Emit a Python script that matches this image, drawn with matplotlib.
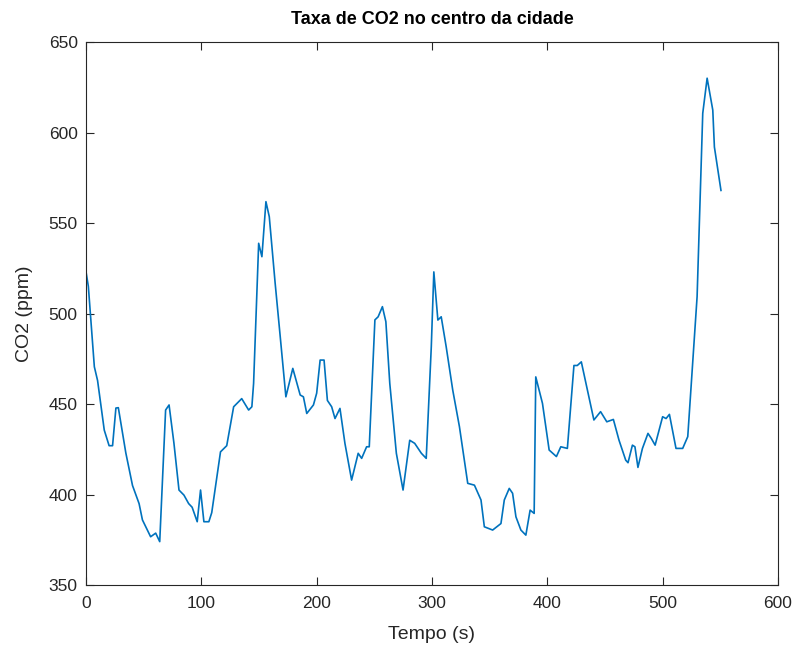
import matplotlib
matplotlib.use("Agg")
import matplotlib.pyplot as plt

# valores
tempo = [0, 2, 7.2, 10, 15.8, 20, 23, 25.9, 28, 34.5, 40.3, 46, 48.9, 56, 60.4, 63.9,
         69, 72, 76.2, 80.6, 84.9, 89, 92, 96.4, 99.3, 102.2, 106.5, 109, 116.6, 122,
         128, 135, 141, 143.8, 145.3, 149.7, 152.5, 156, 158.9, 164, 168.4, 173.3,
         179.3, 185.7, 188.5, 191.4, 197.2, 200, 203, 206.4, 209.3, 213, 215.9, 220.2,
         224.5, 230.3, 236, 239, 243.3, 245.6, 250.5, 253.3, 257, 260, 263.4, 269.1,
         274.9, 280.7, 285, 290.8, 295, 299.4, 301.6, 305.1, 308, 312.3, 318, 323.8,
         331, 336.8, 342.5, 345.4, 352.6, 359.8, 362.7, 367, 369.9, 372.8, 377.1,
         381.4, 385.1, 388.6, 390, 395.8, 401.6, 407.9, 411.7, 417.4, 423.1, 426,
         429.5, 440.4, 446.2, 451.6, 457.3, 462.2, 468, 470, 473.8, 476, 478.6,
         482.5, 487.3, 490.2, 493.5, 500, 503, 505.9, 511.6, 517.4, 521.8, 529.9,
         534.8, 538.6, 543.5, 544.9, 550.6]
co2 = [523, 515, 470.6, 463, 435.6, 427, 427, 447.8, 448, 423, 405, 395, 386, 376.7,
       378.7, 374, 446.7, 449.5, 428.5, 402.5, 399.7, 395, 393, 385, 402.5, 385, 385,
       390, 423.6, 427, 448.5, 453, 446.7, 448.5, 461.4, 538.8, 531.4, 561.8, 553.5,
       516.7, 487.2, 454, 469.7, 455, 454, 444.8, 449.5, 456, 474.3, 474.3, 452, 448.5,
       442, 447.6, 428.3, 408, 422.8, 420, 426.4, 426.4, 496.5, 498.2, 503.8, 495.5,
       461.4, 422.8, 402.5, 430, 428.3, 422.8, 420, 481.7, 523, 496.4, 498.2, 481.7,
       457.7, 437.5, 406.2, 405.2, 397, 382.2, 380.4, 384, 397, 403.4, 400.7, 387.7,
       380.4, 377.6, 391.4, 389.6, 465, 450.4, 424.6, 421, 426.4, 425.5, 471.3, 471.3,
       473.3, 441.2, 445.8, 440.2, 441.5, 430, 419, 417.6, 427.3, 426.4, 415, 425.5,
       433.8, 431, 427.3, 443, 442, 444.3, 425.5, 425.5, 432, 509.3, 610.6, 630,
       612.4, 592, 568]

plt.rcParams['font.family'] = ['Liberation Sans', 'DejaVu Sans']

fig = plt.figure(figsize=(7.93, 6.53), dpi=100)
ax = fig.add_axes([0.1085, 0.104, 0.8725, 0.8317])
ax.plot(tempo, co2, color='#0072BD', linewidth=1.2)

ax.set_xlim(0, 600)
ax.set_ylim(350, 650)
ax.set_xticks(range(0, 601, 100))
ax.set_yticks(range(350, 651, 50))
ax.tick_params(direction='in', top=True, right=True, length=6, width=0.8,
               colors='#262626', labelsize=12.5, labelcolor='#262626')
ax.tick_params(axis='x', pad=8)
ax.tick_params(axis='y', pad=6)
for s in ax.spines.values():
    s.set_color('#262626')
    s.set_linewidth(0.8)

ax.set_xlabel('Tempo (s)', fontsize=14, color='#262626', labelpad=11)
ax.set_ylabel('CO2 (ppm)', fontsize=14, color='#262626', labelpad=11)
ax.set_title('Taxa de CO2 no centro da cidade', fontsize=13, fontweight='bold', pad=13)

fig.savefig('out.png', dpi=100)
